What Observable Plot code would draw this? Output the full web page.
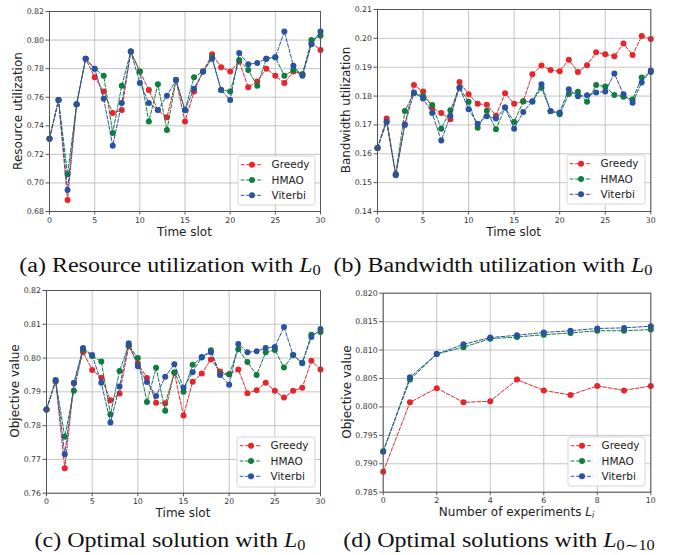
<!DOCTYPE html>
<html>
<head>
<meta charset="utf-8">
<script src="https://cdn.jsdelivr.net/npm/d3@7"></script>
<script src="https://cdn.jsdelivr.net/npm/@observablehq/plot@0.6"></script>
<style>
  html, body { margin: 0; padding: 0; background: #fff; }
  #root { position: relative; width: 673px; height: 555px; overflow: hidden; background: #fff; }
  .pnl { position: absolute; }
  .axt { position: absolute; font-family: "DejaVu Sans", sans-serif; font-size: 12px; color: #222; white-space: nowrap; transform: translate(-50%, -50%); }
  .axt.rot { transform: translate(-50%, -50%) rotate(-90deg); }
  .cap { position: absolute; font-family: "Liberation Serif", "DejaVu Serif", serif; font-size: 20px; color: #111; white-space: nowrap; transform: translate(-50%, -50%) scaleX(1.2); }
  .cap sub, .axt sub { font-size: 0.68em; vertical-align: -0.25em; line-height: 0; }
  .lg { position: absolute; }
</style>
</head>
<body>
<div id="root"></div>
<script>
// ---------- data ----------
const seriesNames = ["Greedy", "HMAO", "Viterbi"];
const seriesColors = ["#e8242b", "#0f7d3e", "#2a52a3"];

const timeSlots = [0,1,2,3,4,5,6,7,8,9,10,11,12,13,14,15,16,17,18,19,20,21,22,23,24,25,26,27,28,29,30];
const experiments = [0,1,2,3,4,5,6,7,8,9,10];

const resGreedy  = [0.731,0.758,0.688,0.755,0.787,0.774,0.764,0.749,0.751,0.792,0.778,0.765,0.751,0.746,0.772,0.743,0.764,0.778,0.790,0.781,0.778,0.785,0.767,0.771,0.780,0.775,0.770,0.778,0.776,0.798,0.793];
const resHMAO    = [0.731,0.758,0.706,0.755,0.787,0.780,0.775,0.735,0.768,0.792,0.778,0.743,0.769,0.737,0.772,0.751,0.774,0.778,0.788,0.765,0.764,0.786,0.779,0.768,0.787,0.788,0.775,0.779,0.776,0.800,0.803];
const resViterbi = [0.731,0.758,0.695,0.755,0.787,0.780,0.759,0.726,0.756,0.792,0.770,0.756,0.751,0.761,0.772,0.751,0.766,0.778,0.787,0.765,0.758,0.791,0.783,0.784,0.787,0.788,0.806,0.782,0.775,0.797,0.806];

const bwGreedy  = [0.162,0.1722,0.153,0.1702,0.1838,0.1816,0.1759,0.1741,0.172,0.1849,0.1806,0.1773,0.177,0.1732,0.181,0.1773,0.1782,0.1876,0.1906,0.189,0.1886,0.1926,0.1883,0.1907,0.1952,0.1945,0.1938,0.1982,0.1942,0.2008,0.1998];
const bwHMAO    = [0.162,0.171,0.1528,0.1748,0.181,0.180,0.1769,0.1687,0.1751,0.1829,0.178,0.169,0.1749,0.1685,0.176,0.171,0.1781,0.178,0.1829,0.1748,0.1737,0.1807,0.1815,0.178,0.1838,0.1833,0.1804,0.1798,0.1788,0.1864,0.1883];
const bwViterbi = [0.162,0.1711,0.1526,0.170,0.1812,0.1792,0.1741,0.1646,0.1732,0.1829,0.1754,0.1704,0.173,0.1722,0.176,0.1687,0.1745,0.1782,0.1841,0.1747,0.1743,0.1824,0.1799,0.1803,0.1812,0.1816,0.1878,0.1806,0.1777,0.1847,0.1889];

const objGreedy  = [0.7848,0.7931,0.7674,0.7926,0.8018,0.7965,0.7942,0.7875,0.7895,0.8035,0.7985,0.7941,0.7868,0.7866,0.7956,0.783,0.793,0.7954,0.7996,0.796,0.7952,0.7966,0.7896,0.7905,0.7927,0.7903,0.7883,0.7903,0.7912,0.7992,0.7966];
const objHMAO    = [0.7848,0.7932,0.7767,0.7903,0.8025,0.8006,0.799,0.7833,0.7962,0.8038,0.800,0.787,0.7971,0.7844,0.7958,0.790,0.798,0.8002,0.8023,0.7952,0.7952,0.8026,0.7988,0.795,0.8017,0.8024,0.7972,0.8009,0.7985,0.8069,0.8077];
const objViterbi = [0.7848,0.7935,0.7715,0.7926,0.803,0.8009,0.7927,0.7809,0.7916,0.8044,0.7976,0.7929,0.7888,0.7945,0.7982,0.7912,0.7958,0.8003,0.8017,0.795,0.7921,0.8042,0.8017,0.802,0.803,0.8033,0.8092,0.8009,0.7986,0.8062,0.8086];

const expGreedy  = [0.7886,0.8008,0.8033,0.8008,0.801,0.8048,0.8029,0.8021,0.8037,0.8029,0.8037];
const expHMAO    = [0.7922,0.8048,0.8093,0.8105,0.812,0.8123,0.8127,0.813,0.8134,0.8134,0.8136];
const expViterbi = [0.7921,0.8052,0.8093,0.811,0.8122,0.8126,0.8131,0.8134,0.8138,0.8139,0.8142];

const timeTicks = [0,5,10,15,20,25,30];
const expTicks = [0,2,4,6,8,10];
const resTicks = [0.68,0.70,0.72,0.74,0.76,0.78,0.80,0.82];
const bwTicks = [0.14,0.15,0.16,0.17,0.18,0.19,0.20,0.21];
const objTicks = [0.76,0.77,0.78,0.79,0.80,0.81,0.82];
const expYTicks = [0.785,0.790,0.795,0.800,0.805,0.810,0.815,0.820];

// ---------- layout ----------
const root = document.getElementById("root");

function panel(cfg) {
  const marks = [
    Plot.gridX(cfg.xTicks, {stroke: "#bdbdbd", strokeOpacity: 1, strokeWidth: 0.9}),
    Plot.gridY(cfg.yTicks, {stroke: "#bdbdbd", strokeOpacity: 1, strokeWidth: 0.9})
  ];
  cfg.series.forEach((vals, k) => {
    const pts = cfg.xs.map((x, i) => [x, vals[i]]);
    marks.push(Plot.line(pts, {stroke: seriesColors[k], strokeWidth: 1, strokeDasharray: "3.7,1.8"}));
    marks.push(Plot.dot(pts, {fill: seriesColors[k], r: 3, stroke: "none"}));
  });
  marks.push(Plot.frame({stroke: "#555", strokeWidth: 1}));
  marks.push(Plot.axisX(cfg.xTicks, {tickSize: 3.5, tickPadding: 2, fontSize: 7.8, stroke: "#555", fill: "#333", label: null, tickFormat: d3.format("d")}));
  marks.push(Plot.axisY(cfg.yTicks, {tickSize: 3.5, tickPadding: 2, fontSize: 7.8, stroke: "#555", fill: "#333", label: null, tickFormat: d3.format(cfg.yFmt)}));

  const chart = Plot.plot({
    width: cfg.w, height: cfg.h,
    marginTop: cfg.mt, marginRight: cfg.mr, marginBottom: cfg.mb, marginLeft: cfg.ml,
    style: {fontFamily: "DejaVu Sans, sans-serif", background: "transparent", overflow: "visible"},
    x: {domain: cfg.xDomain},
    y: {domain: cfg.yDomain},
    marks
  });
  const wrap = document.createElement("div");
  wrap.className = "pnl";
  wrap.style.left = cfg.left + "px";
  wrap.style.top = cfg.top + "px";
  wrap.appendChild(chart);
  root.appendChild(wrap);

  // axis titles
  const yt = document.createElement("div");
  yt.className = "axt rot";
  yt.style.left = cfg.ylx + "px";
  yt.style.top = (cfg.top + cfg.mt + (cfg.h - cfg.mt - cfg.mb) / 2) + "px";
  yt.innerHTML = cfg.ylabel;
  root.appendChild(yt);
  const xt = document.createElement("div");
  xt.className = "axt";
  xt.style.left = (cfg.left + cfg.ml + (cfg.w - cfg.ml - cfg.mr) / 2) + "px";
  xt.style.top = cfg.xly + "px";
  xt.innerHTML = cfg.xlabel;
  root.appendChild(xt);

  // legend
  const lg = d3.create("svg").attr("class", "lg")
    .attr("width", cfg.lgW + 2).attr("height", cfg.lgH + 2)
    .style("left", (cfg.lgX - 1) + "px").style("top", (cfg.lgY - 1) + "px");
  lg.append("rect").attr("x", 1).attr("y", 1).attr("width", cfg.lgW).attr("height", cfg.lgH)
    .attr("rx", 2.5).attr("fill", "#fff").attr("fill-opacity", 0.85)
    .attr("stroke", "#d0d0d0").attr("stroke-width", 0.9);
  seriesNames.forEach((name, k) => {
    const yy = 1 + 8.7 + k * 15.3;
    lg.append("line").attr("x1", 3.7).attr("x2", 26).attr("y1", yy).attr("y2", yy)
      .attr("stroke", seriesColors[k]).attr("stroke-width", 1).attr("stroke-dasharray", "3.7,1.8");
    lg.append("circle").attr("cx", 15).attr("cy", yy).attr("r", 3).attr("fill", seriesColors[k]);
    lg.append("text").attr("x", 34.5).attr("y", yy).attr("dy", "0.36em")
      .attr("font-family", "DejaVu Sans, sans-serif").attr("font-size", 10.5).attr("fill", "#222")
      .text(name);
  });
  root.appendChild(lg.node());
}

panel({
  left: 0, top: 0, w: 336, h: 245, mt: 11, mr: 16, mb: 34, ml: 49,
  xDomain: [0, 30], xTicks: timeTicks, yDomain: [0.68, 0.82], yTicks: resTicks, yFmt: ".2f",
  xs: timeSlots, series: [resGreedy, resHMAO, resViterbi],
  ylabel: "Resource utilization", ylx: 18, xlabel: "Time slot", xly: 232,
  lgX: 238, lgY: 156, lgW: 77, lgH: 49
});
panel({
  left: 336, top: 0, w: 337, h: 245, mt: 9, mr: 22.7, mb: 34, ml: 41,
  xDomain: [0, 30], xTicks: timeTicks, yDomain: [0.14, 0.21], yTicks: bwTicks, yFmt: ".2f",
  xs: timeSlots, series: [bwGreedy, bwHMAO, bwViterbi],
  ylabel: "Bandwidth utilization", ylx: 346, xlabel: "Time slot", xly: 232,
  lgX: 567, lgY: 155, lgW: 78, lgH: 49
});
panel({
  left: 0, top: 275, w: 336, h: 250, mt: 15, mr: 16, mb: 32.3, ml: 46,
  xDomain: [0, 30], xTicks: timeTicks, yDomain: [0.76, 0.82], yTicks: objTicks, yFmt: ".2f",
  xs: timeSlots, series: [objGreedy, objHMAO, objViterbi],
  ylabel: "Objective value", ylx: 15, xlabel: "Time slot", xly: 513,
  lgX: 237, lgY: 437, lgW: 78, lgH: 50
});
panel({
  left: 336, top: 275, w: 337, h: 250, mt: 17.7, mr: 22.7, mb: 33.3, ml: 46.7,
  xDomain: [0, 10], xTicks: expTicks, yDomain: [0.785, 0.820], yTicks: expYTicks, yFmt: ".3f",
  xs: experiments, series: [expGreedy, expHMAO, expViterbi],
  ylabel: "Objective value", ylx: 347, xlabel: "Number of experiments <i>L<sub>i</sub></i>", xly: 512,
  lgX: 568, lgY: 437, lgW: 77, lgH: 49
});

// captions
const captions = [
  {html: "(a) Resource utilization with <i>L</i><sub>0</sub>", x: 170, y: 265},
  {html: "(b) Bandwidth utilization with <i>L</i><sub>0</sub>", x: 493, y: 265},
  {html: "(c) Optimal solution with <i>L</i><sub>0</sub>", x: 170, y: 540},
  {html: "(d) Optimal solutions with <i>L</i><sub>0∼10</sub>", x: 499, y: 540}
];
captions.forEach(c => {
  const d = document.createElement("div");
  d.className = "cap";
  d.style.left = c.x + "px";
  d.style.top = c.y + "px";
  d.innerHTML = c.html;
  root.appendChild(d);
});
</script>
</body>
</html>
